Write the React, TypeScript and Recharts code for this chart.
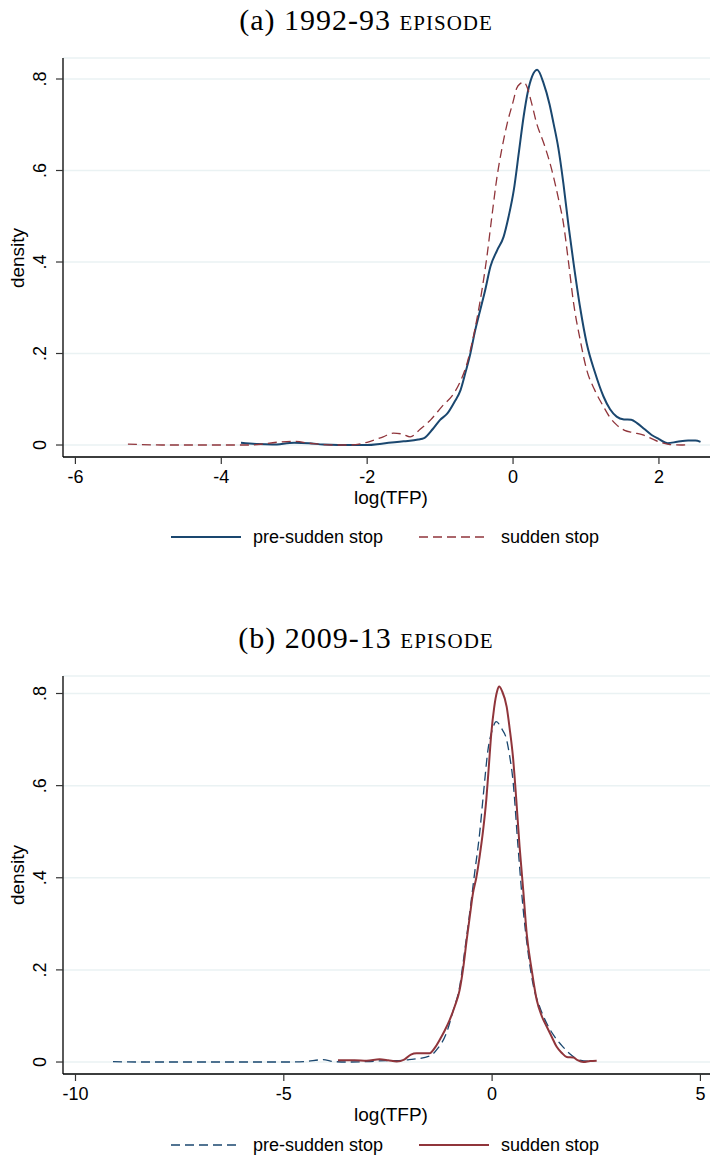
import React from "react";
import { LineChart, Line, XAxis, YAxis, CartesianGrid } from "recharts";

// Kernel densities of log(TFP)
const preA = [
  [-3.73, 0.005], [-3.5, 0.002], [-3.3, 0.001], [-3.0, 0.005], [-2.8, 0.004], [-2.6, 0.001],
  [-2.4, 0], [-2.0, 0], [-1.8, 0.003], [-1.5, 0.008], [-1.3, 0.012], [-1.22, 0.015],
  [-1.1, 0.035], [-1.0, 0.055], [-0.9, 0.069], [-0.8, 0.095], [-0.72, 0.12], [-0.65, 0.16],
  [-0.585, 0.2], [-0.52, 0.25], [-0.45, 0.295], [-0.38, 0.34], [-0.31, 0.39], [-0.22, 0.425],
  [-0.13, 0.455], [-0.06, 0.5], [0.01, 0.557], [0.08, 0.64], [0.145, 0.718], [0.2, 0.77],
  [0.26, 0.805], [0.33, 0.82], [0.42, 0.79], [0.5, 0.745], [0.555, 0.703], [0.62, 0.65],
  [0.69, 0.572], [0.76, 0.48], [0.83, 0.397], [0.92, 0.3], [1.01, 0.222], [1.12, 0.16],
  [1.24, 0.106], [1.33, 0.078], [1.42, 0.062], [1.52, 0.056], [1.62, 0.055], [1.7, 0.048],
  [1.8, 0.035], [1.9, 0.022], [2.0, 0.013], [2.12, 0.004], [2.25, 0.007], [2.4, 0.01],
  [2.5, 0.01], [2.57, 0.007],
];
const stopA = [
  [-5.28, 0.002], [-4.8, 0], [-4.0, 0], [-3.6, 0], [-3.24, 0.006], [-3.02, 0.008],
  [-2.74, 0.003], [-2.46, 0], [-2.23, 0], [-2.0, 0.006], [-1.78, 0.018], [-1.64, 0.026],
  [-1.52, 0.024], [-1.41, 0.018], [-1.27, 0.035], [-1.13, 0.055], [-0.97, 0.085], [-0.81, 0.113],
  [-0.72, 0.14], [-0.63, 0.179], [-0.56, 0.225], [-0.49, 0.28], [-0.42, 0.345], [-0.36, 0.41],
  [-0.29, 0.5], [-0.22, 0.586], [-0.15, 0.65], [-0.08, 0.703], [0.0, 0.75], [0.05, 0.78],
  [0.1, 0.79], [0.15, 0.793], [0.19, 0.783], [0.25, 0.75], [0.32, 0.705], [0.42, 0.66],
  [0.49, 0.625], [0.555, 0.586], [0.62, 0.54], [0.69, 0.485], [0.76, 0.4], [0.83, 0.31],
  [0.92, 0.23], [1.01, 0.164], [1.12, 0.12], [1.24, 0.084], [1.33, 0.06], [1.42, 0.044],
  [1.53, 0.032], [1.65, 0.027], [1.78, 0.022], [1.9, 0.014], [2.0, 0.007], [2.15, 0.001],
  [2.3, 0], [2.4, 0.001],
];
const preB = [
  [-9.1, 0.001], [-8.5, 0], [-7, 0], [-6, 0], [-5, 0], [-4.5, 0.001], [-4.06, 0.005],
  [-3.8, 0.001], [-3.5, 0], [-3.0, 0.001], [-2.5, 0.003], [-2.29, 0.003], [-2.0, 0.005],
  [-1.5, 0.013], [-1.3, 0.03], [-1.1, 0.062], [-0.94, 0.11], [-0.78, 0.163], [-0.66, 0.24],
  [-0.54, 0.322], [-0.42, 0.41], [-0.3, 0.496], [-0.2, 0.59], [-0.1, 0.677], [0.0, 0.72],
  [0.1, 0.739], [0.22, 0.725], [0.35, 0.699], [0.42, 0.665], [0.5, 0.612], [0.62, 0.47],
  [0.74, 0.337], [0.86, 0.24], [0.98, 0.17], [1.15, 0.118], [1.31, 0.084], [1.5, 0.055],
  [1.7, 0.033], [1.9, 0.015], [2.1, 0.004], [2.3, 0.002], [2.45, 0.003],
];
const stopB = [
  [-3.7, 0.004], [-3.3, 0.004], [-3.01, 0.003], [-2.7, 0.006], [-2.5, 0.004], [-2.29, 0.001],
  [-2.1, 0.006], [-1.95, 0.016], [-1.81, 0.019], [-1.5, 0.019], [-1.38, 0.03], [-1.26, 0.048],
  [-1.14, 0.068], [-1.02, 0.091], [-0.9, 0.12], [-0.78, 0.156], [-0.7, 0.2], [-0.61, 0.265],
  [-0.53, 0.32], [-0.46, 0.366], [-0.38, 0.4], [-0.3, 0.446], [-0.22, 0.5], [-0.14, 0.569],
  [-0.08, 0.64], [-0.02, 0.713], [0.05, 0.77], [0.12, 0.805], [0.17, 0.815], [0.24, 0.805],
  [0.35, 0.771], [0.42, 0.725], [0.5, 0.663], [0.58, 0.57], [0.66, 0.467], [0.75, 0.37],
  [0.83, 0.279], [0.95, 0.2], [1.07, 0.135], [1.19, 0.1], [1.31, 0.077], [1.43, 0.055],
  [1.55, 0.033], [1.67, 0.02], [1.79, 0.011], [1.95, 0.01], [2.05, 0.004], [2.19, 0],
  [2.35, 0.002], [2.51, 0.003],
];

const yTicks = [0, 0.2, 0.4, 0.6, 0.8];
const xTicksA = [-6, -4, -2, 0, 2];
const xTicksB = [-10, -5, 0, 5];

const NAVY = "#1a476f";
const MAROON = "#90353b";
const SANS = "'Liberation Sans', Arial, sans-serif";
const SERIF = "'Liberation Serif', 'Times New Roman', serif";
const FS = 18;

const toPts = (arr: number[][]) => arr.map(([x, y]) => ({ x, y }));
const fmtY = (v: number) => (v === 0 ? "0" : String(v).replace(/^0/, ""));

const YTick = (props: any) => {
  const { y, payload } = props;
  return (
    <text x={46} y={y} transform={`rotate(-90, 46, ${y})`} textAnchor="middle" fontSize={FS} fontFamily={SANS} fill="#000">
      {fmtY(payload.value)}
    </text>
  );
};

function LegendRow({ top, first, second }: any) {
  const sample = (s: any) => (
    <svg width={72} height={10} style={{ display: "block" }}>
      <line x1={1} y1={5} x2={71} y2={5} stroke={s.color} strokeWidth={s.dash ? 1.3 : 2} strokeDasharray={s.dash ? "9 5" : undefined} />
    </svg>
  );
  return (
    <div style={{ position: "absolute", top, left: 170, display: "flex", alignItems: "center", fontFamily: SANS, fontSize: FS, height: 24 }}>
      {sample(first)}
      <span style={{ marginLeft: 11, width: 165 }}>{first.name}</span>
      {sample(second)}
      <span style={{ marginLeft: 11 }}>{second.name}</span>
    </div>
  );
}

function Panel({ top, title, xDomain, xTicks, yDomain, plotTop, plotBottom, series, legendTop }: any) {
  const height = 520;
  const xAxisH = height - plotBottom;
  return (
    <>
      <div style={{ position: "absolute", top: top + plotTop - 55, left: 0, width: 732, textAlign: "center", fontFamily: SERIF, fontSize: 30, letterSpacing: 1, lineHeight: "34px", color: "#000" }}>
        {title[0]} <span style={{ fontVariant: "small-caps" }}>{title[1]}</span>
      </div>
      <div style={{ position: "absolute", top }}>
        <LineChart width={710} height={height} margin={{ top: plotTop, right: 0, bottom: 0, left: 13 }}>
          <CartesianGrid vertical={false} stroke="#eaf2f3" strokeWidth={1.5} />
          <XAxis
            type="number"
            dataKey="x"
            domain={xDomain}
            ticks={xTicks}
            allowDataOverflow
            height={xAxisH}
            axisLine={{ stroke: "#000", strokeWidth: 1.3 }}
            tickLine={{ stroke: "#333", strokeWidth: 1.2 }}
            tickSize={7}
            tickMargin={6}
            tick={{ fill: "#000", fontSize: FS, fontFamily: SANS }}
          />
          <YAxis
            type="number"
            dataKey="y"
            domain={yDomain}
            ticks={yTicks}
            allowDataOverflow
            width={50}
            axisLine={{ stroke: "#000", strokeWidth: 1.3 }}
            tickLine={{ stroke: "#333", strokeWidth: 1.2 }}
            tickSize={7}
            tick={<YTick />}
          />
          {series.map((s: any) => (
            <Line
              key={s.name}
              data={toPts(s.data)}
              dataKey="y"
              type="monotone"
              stroke={s.color}
              strokeWidth={s.dash ? 1.3 : 2}
              strokeDasharray={s.dash ? "9 5" : undefined}
              dot={false}
              isAnimationActive={false}
            />
          ))}
        </LineChart>
      </div>
      <div style={{ position: "absolute", top: top + plotBottom + 31, left: 391, transform: "translateX(-50%)", fontFamily: SANS, fontSize: 19, lineHeight: "19px" }}>
        log(TFP)
      </div>
      <div style={{ position: "absolute", top: top + (plotTop + plotBottom) / 2, left: 18, transform: "translate(-50%, -50%) rotate(-90deg)", fontFamily: SANS, fontSize: 19 }}>
        density
      </div>
      <LegendRow top={legendTop} first={series[0]} second={series[1]} />
    </>
  );
}

export default function App() {
  return (
    <div style={{ position: "absolute", left: 0, top: 0, width: 710, height: 1167, background: "#fff", overflow: "hidden" }}>
      <Panel
        top={0}
        title={["(a) 1992-93", "episode"]}
        xDomain={[-6.17, 2.7]}
        xTicks={xTicksA}
        yDomain={[-0.0262, 0.8459]}
        plotTop={58}
        plotBottom={457}
        legendTop={525}
        series={[
          { name: "pre-sudden stop", data: preA, color: NAVY, dash: false },
          { name: "sudden stop", data: stopA, color: MAROON, dash: true },
        ]}
      />
      <Panel
        top={600}
        title={["(b) 2009-13", "episode"]}
        xDomain={[-10.3, 5.23]}
        xTicks={xTicksB}
        yDomain={[-0.026, 0.838]}
        plotTop={76}
        plotBottom={474}
        legendTop={1133}
        series={[
          { name: "pre-sudden stop", data: preB, color: NAVY, dash: true },
          { name: "sudden stop", data: stopB, color: MAROON, dash: false },
        ]}
      />
    </div>
  );
}
